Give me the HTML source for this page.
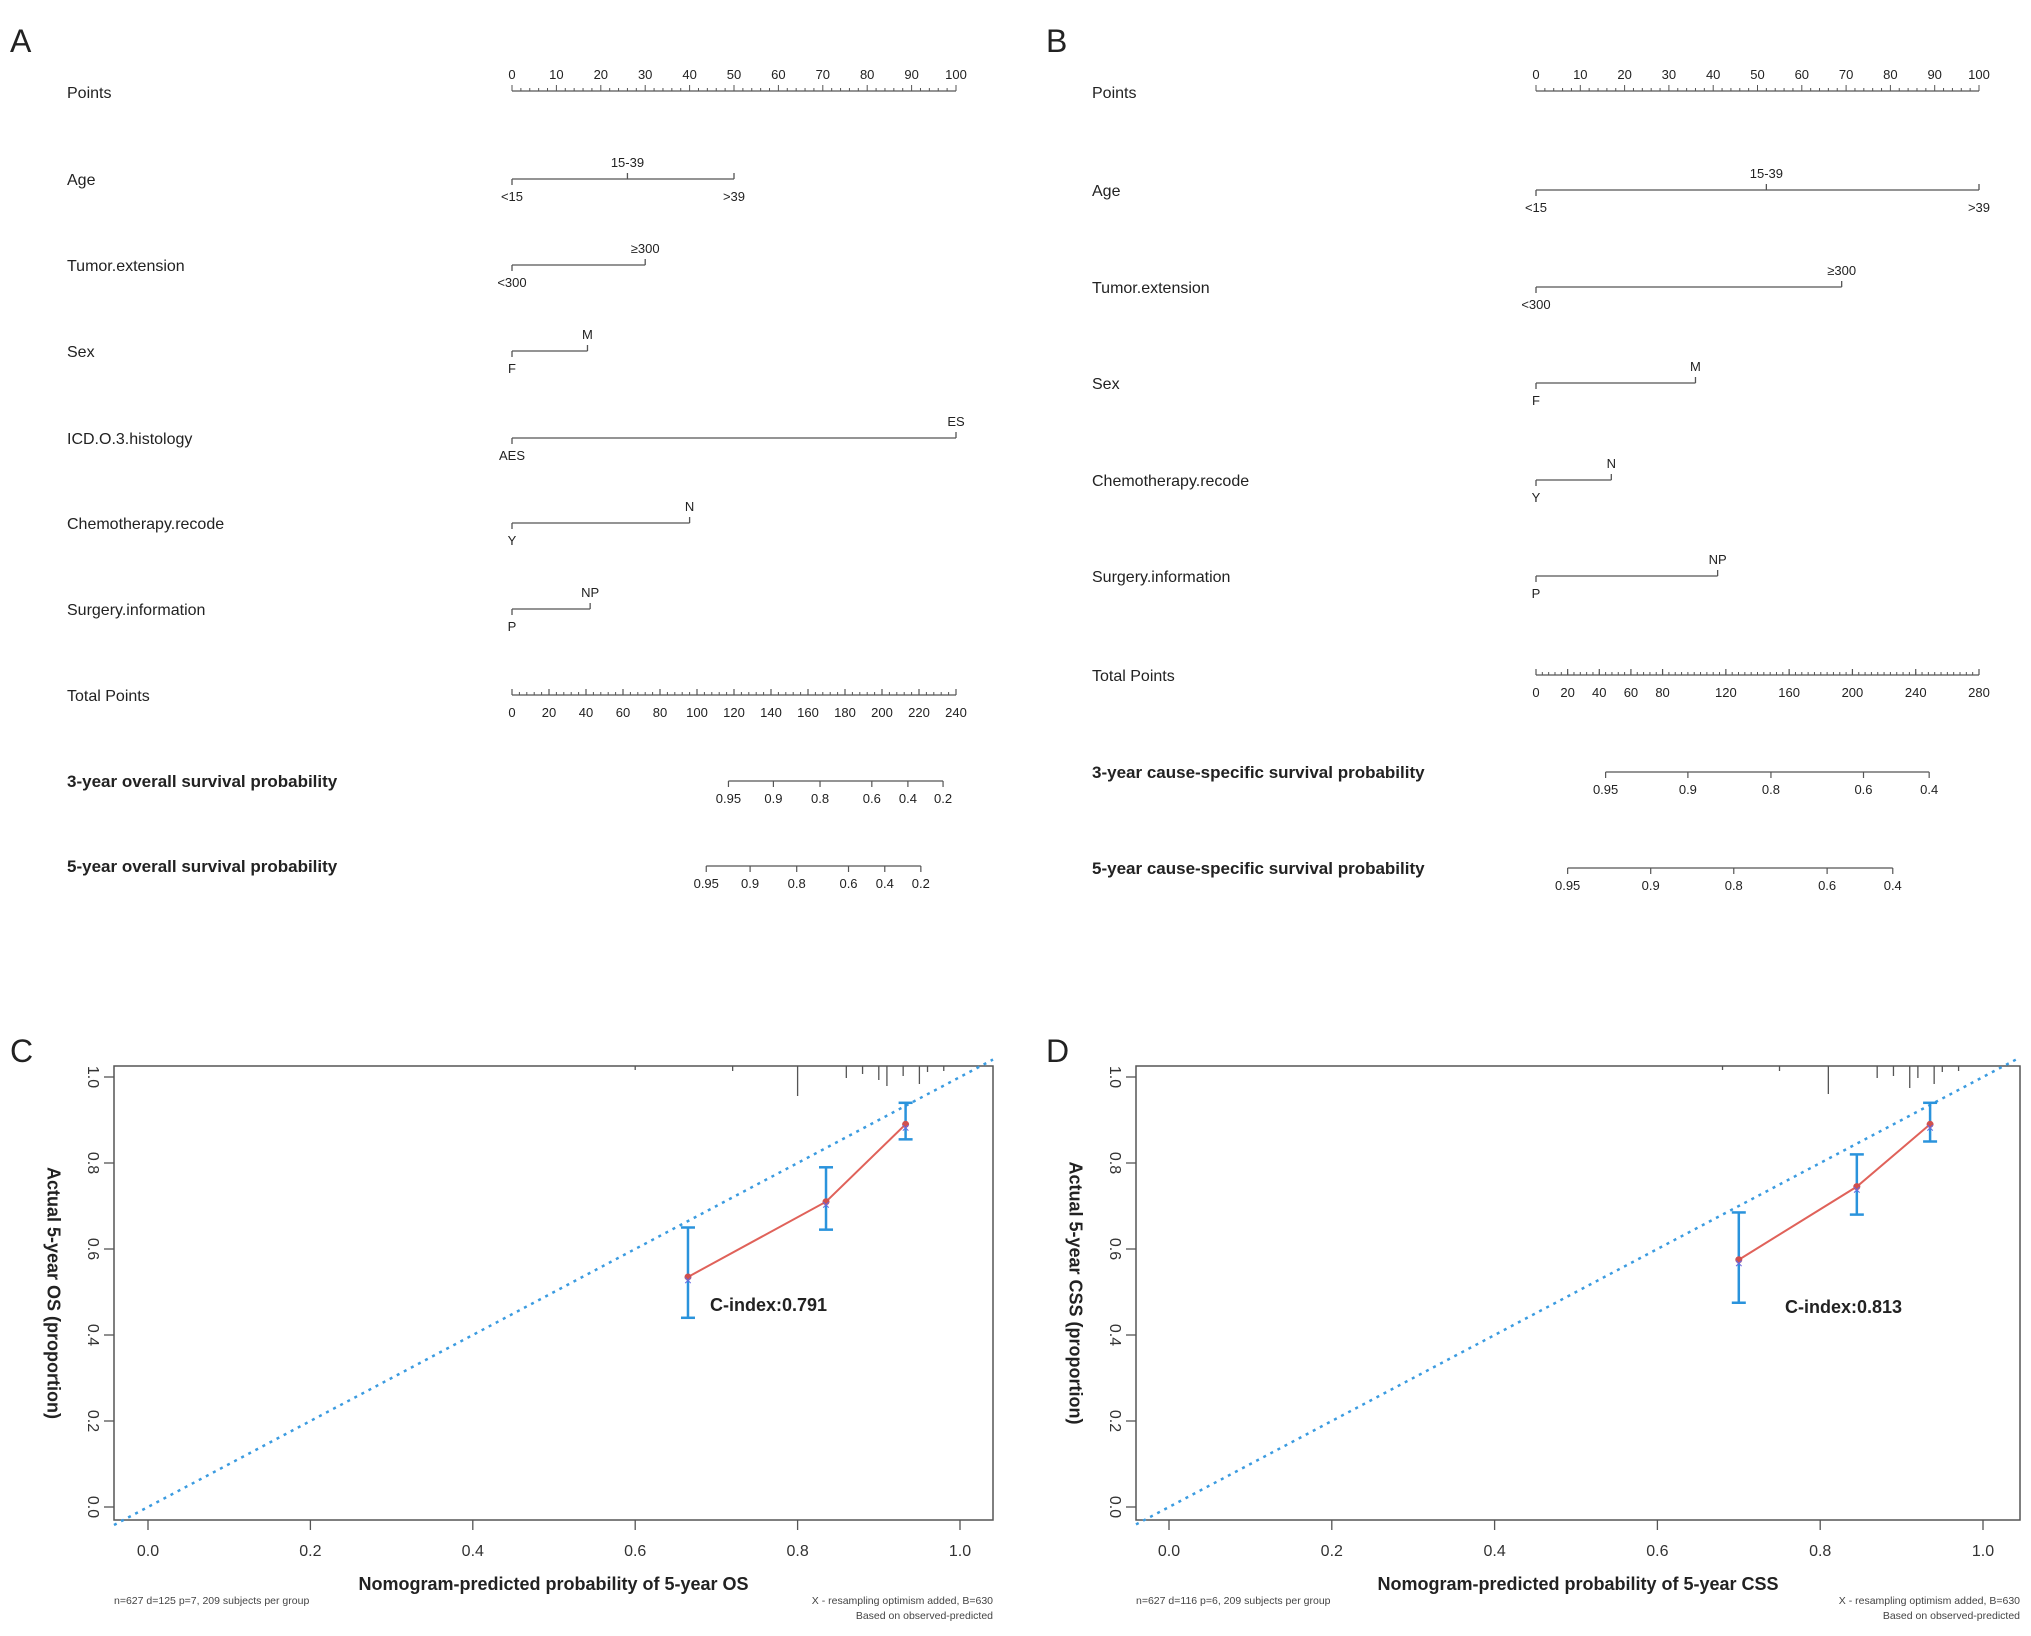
<!DOCTYPE html>
<html><head><meta charset="utf-8"><style>
html,body{margin:0;padding:0;background:#fff;}
svg{display:block;font-family:"Liberation Sans",Arial,sans-serif;}
</style></head><body>
<svg id="fig" width="2031" height="1636" viewBox="0 0 2031 1636" xmlns="http://www.w3.org/2000/svg"></svg>
<script>
// ---- Nomogram A data ----
const aVars = ["Age","Tumor.extension","Sex","ICD.O.3.histology","Chemotherapy.recode","Surgery.information"];
const aLow  = ["<15","<300","F","AES","Y","P"];
const aHigh = ["15-39","≥300","M","ES","N","NP"];
const aMidPts = [26,null,null,null,null,null];
const aHighPts = [50,30,17,100,40,17.6];
const aTotalTicks = [0,20,40,60,80,100,120,140,160,180,200,220,240];
const a3yLabels = ["0.95","0.9","0.8","0.6","0.4","0.2"];
const a3yTotals = [117,141.3,166.5,194.5,214,233];
const a5yLabels = ["0.95","0.9","0.8","0.6","0.4","0.2"];
const a5yTotals = [105,128.7,153.9,181.9,201.5,221];
// ---- Nomogram B data ----
const bVars = ["Age","Tumor.extension","Sex","Chemotherapy.recode","Surgery.information"];
const bLow  = ["<15","<300","F","Y","P"];
const bHigh = ["15-39","≥300","M","N","NP"];
const bMidPts = [52,null,null,null,null];
const bHighPts = [100,69,36,17,41];
const bTotalTicks = [0,20,40,60,80,120,160,200,240,280];
const b3yLabels = ["0.95","0.9","0.8","0.6","0.4"];
const b3yTotals = [44,96,148.5,207,248.5];
const b5yLabels = ["0.95","0.9","0.8","0.6","0.4"];
const b5yTotals = [20,72.5,125,184,225.5];
// ---- Calibration data ----
const cPred = [0.665,0.835,0.933];
const cObs  = [0.535,0.71,0.89];
const cLo   = [0.44,0.645,0.855];
const cHi   = [0.65,0.79,0.94];
const cRug  = [0.60,0.72,0.80,0.86,0.88,0.90,0.91,0.93,0.95,0.96,0.98];
const cRugLen=[4,5,30,12,8,14,20,10,18,6,5];
const dPred = [0.70,0.845,0.935];
const dObs  = [0.575,0.745,0.89];
const dLo   = [0.475,0.68,0.85];
const dHi   = [0.685,0.82,0.94];
const dRug  = [0.68,0.75,0.81,0.87,0.89,0.91,0.92,0.94,0.95,0.97];
const dRugLen=[4,5,28,12,10,22,12,18,6,5];
const xTicks=[0,0.2,0.4,0.6,0.8,1.0];
const yTicks=[0,0.2,0.4,0.6,0.8,1.0];

const NS="http://www.w3.org/2000/svg";
const svg=document.getElementById('fig');
function el(tag,attrs,parent){const e=document.createElementNS(NS,tag);for(const k in attrs)e.setAttribute(k,attrs[k]);(parent||svg).appendChild(e);return e;}
function txt(s,x,y,size,anchor,parent,extra){const t=el('text',Object.assign({x:x,y:y,'font-size':size,'text-anchor':anchor||'start',fill:'#222'},extra||{}),parent);t.textContent=s;return t;}
const LC='#555';

function nomogram(cfg){
  const g=el('g',{});
  
  
  const px=p=>cfg.x0+(cfg.x1-cfg.x0)*p/100;
  const tx=t=>cfg.x0+(cfg.x1-cfg.x0)*t/cfg.totMax;
  const pl=txt(cfg.letter,cfg.lx,cfg.ly,32,'start',g);
  
  const pa=el('g',{},g);
  
  txt('Points',cfg.labX,cfg.pointsY+7,16,'start',pa);
  el('line',{x1:px(0),x2:px(100),y1:cfg.pointsY,y2:cfg.pointsY,stroke:LC,'stroke-width':1.3},pa);
  for(let p=0;p<=100;p+=2){const h=p%10===0?6:3;el('line',{x1:px(p),x2:px(p),y1:cfg.pointsY,y2:cfg.pointsY-h,stroke:LC,'stroke-width':1},pa);}
  for(let p=0;p<=100;p+=10)txt(String(p),px(p),cfg.pointsY-12,13,'middle',pa);
  cfg.vars.forEach((v,i)=>{
    const y=cfg.rows[i];
    const r=el('g',{},g);
    
    
    txt(v,cfg.labX,y+6,16,'start',r);
    el('line',{x1:px(0),x2:px(cfg.high[i]),y1:y,y2:y,stroke:LC,'stroke-width':1.3},r);
    el('line',{x1:px(0),x2:px(0),y1:y,y2:y+6,stroke:LC,'stroke-width':1.3},r);
    el('line',{x1:px(cfg.high[i]),x2:px(cfg.high[i]),y1:y,y2:y-6,stroke:LC,'stroke-width':1.3},r);
    txt(cfg.low[i],px(0),y+22,13,'middle',r);
    if(cfg.mid[i]!=null){
      el('line',{x1:px(cfg.mid[i]),x2:px(cfg.mid[i]),y1:y,y2:y-6,stroke:LC,'stroke-width':1.3},r);
      txt('15-39',px(cfg.mid[i]),y-12,13,'middle',r);
      txt('>39',px(cfg.high[i]),y+22,13,'middle',r);
    } else {
      txt(cfg.highL[i],px(cfg.high[i]),y-12,13,'middle',r);
    }
  });
  const ta=el('g',{},g);
  
  txt('Total Points',cfg.labX,cfg.totY+6,16,'start',ta);
  el('line',{x1:tx(0),x2:tx(cfg.totMax),y1:cfg.totY,y2:cfg.totY,stroke:LC,'stroke-width':1.3},ta);
  for(let t=0;t<=cfg.totMax;t+=cfg.minor){el('line',{x1:tx(t),x2:tx(t),y1:cfg.totY,y2:cfg.totY-3,stroke:LC,'stroke-width':1},ta);}
  cfg.totTicks.forEach(t=>{el('line',{x1:tx(t),x2:tx(t),y1:cfg.totY,y2:cfg.totY-6,stroke:LC,'stroke-width':1.2},ta);txt(String(t),tx(t),cfg.totY+22,13,'middle',ta);});
  cfg.probs.forEach(pr=>{
    const a=el('g',{},g);
    
    txt(pr.title,cfg.labX,pr.y+6,17,'start',a,{'font-weight':'bold'});
    const xs=pr.tot.map(tx);
    el('line',{x1:Math.min(...xs),x2:Math.max(...xs),y1:pr.y,y2:pr.y,stroke:LC,'stroke-width':1.3},a);
    pr.tot.forEach((t,j)=>{el('line',{x1:tx(t),x2:tx(t),y1:pr.y,y2:pr.y+6,stroke:LC,'stroke-width':1.2},a);txt(pr.labels[j],tx(t),pr.y+22,13,'middle',a);});
  });
}
nomogram({name:'nomogram-os',letter:'A',lx:10,ly:52,labX:67,x0:512,x1:956,pointsY:91,
  vars:aVars,low:aLow,highL:aHigh,mid:aMidPts,high:aHighPts,rows:[179,265,351,438,523,609],
  totY:695,totMax:240,minor:4,totTicks:aTotalTicks,
  probs:[{name:'os-3-year-axis',title:'3-year overall survival probability',y:781,tot:a3yTotals,labels:a3yLabels},
         {name:'os-5-year-axis',title:'5-year overall survival probability',y:866,tot:a5yTotals,labels:a5yLabels}]});
nomogram({name:'nomogram-css',letter:'B',lx:1046,ly:52,labX:1092,x0:1536,x1:1979,pointsY:91,
  vars:bVars,low:bLow,highL:bHigh,mid:bMidPts,high:bHighPts,rows:[190,287,383,480,576],
  totY:675,totMax:280,minor:4,totTicks:bTotalTicks,
  probs:[{name:'css-3-year-axis',title:'3-year cause-specific survival probability',y:772,tot:b3yTotals,labels:b3yLabels},
         {name:'css-5-year-axis',title:'5-year cause-specific survival probability',y:868,tot:b5yTotals,labels:b5yLabels}]});

function calib(cfg){
  const g=el('g',{});
  
  const X=v=>cfg.x0+(cfg.x1-cfg.x0)*v;
  const Y=v=>cfg.y0-(cfg.y0-cfg.y1)*v;
  const pl=txt(cfg.letter,cfg.lx,1062,32,'start',g);
  
  const box=el('rect',{x:cfg.bl,y:1066,width:cfg.br-cfg.bl,height:1520-1066,fill:'none',stroke:'#555','stroke-width':1.5},g);
  
  const xa=el('g',{},g);
  xTicks.forEach(t=>{el('line',{x1:X(t),x2:X(t),y1:1520,y2:1530,stroke:'#555','stroke-width':1.3},xa);txt(t.toFixed(1),X(t),1556,16,'middle',xa,{fill:'#333'});});
  const ya=el('g',{},g);
  yTicks.forEach(t=>{el('line',{x1:cfg.bl,x2:cfg.bl-10,y1:Y(t),y2:Y(t),stroke:'#555','stroke-width':1.3},ya);txt(t.toFixed(1),cfg.bl-22,Y(t),16,'middle',ya,{fill:'#333',transform:`rotate(90 ${cfg.bl-22} ${Y(t)})`,'dominant-baseline':'middle'});});
  const yt=txt(cfg.ytitle,cfg.bl-62,1293,18,'middle',g,{'font-weight':'bold',transform:`rotate(90 ${cfg.bl-62} 1293)`,'dominant-baseline':'middle'});
  
  const xt=txt(cfg.xtitle,(cfg.bl+cfg.br)/2,1590,18,'middle',g,{'font-weight':'bold'});
  
  txt(cfg.foot1,cfg.bl,1604,10.5,'start',g,{fill:'#444'});
  txt('X - resampling optimism added, B=630',cfg.br,1604,10.5,'end',g,{fill:'#444'});
  txt('Based on observed-predicted',cfg.br,1619,10.5,'end',g,{fill:'#444'});
  cfg.rug.forEach((r,i)=>{const l=el('line',{x1:X(r),x2:X(r),y1:1066,y2:1066+cfg.rugLen[i],stroke:'#555','stroke-width':1.3},g);
    });
  const lo=-(cfg.x0-cfg.bl)/(cfg.x1-cfg.x0), hi=(cfg.br-cfg.x0)/(cfg.x1-cfg.x0);
  const d=el('line',{x1:X(lo),y1:Y(lo),x2:X(hi),y2:Y(hi),stroke:'#3b9be0','stroke-width':2.5,'stroke-dasharray':'3 5'},g);
  
  const pts=cfg.pred.map((p,i)=>X(p)+','+Y(cfg.obs[i])).join(' ');
  const pl2=el('polyline',{points:pts,fill:'none',stroke:'#e0625a','stroke-width':2},g);
  
  cfg.pred.forEach((p,i)=>{
    const e=el('g',{},g);
    el('line',{x1:X(p),x2:X(p),y1:Y(cfg.lo[i]),y2:Y(cfg.hi[i]),stroke:'#2a93dc','stroke-width':2.5},e);
    el('line',{x1:X(p)-7,x2:X(p)+7,y1:Y(cfg.lo[i]),y2:Y(cfg.lo[i]),stroke:'#2a93dc','stroke-width':2.5},e);
    el('line',{x1:X(p)-7,x2:X(p)+7,y1:Y(cfg.hi[i]),y2:Y(cfg.hi[i]),stroke:'#2a93dc','stroke-width':2.5},e);
    const c=el('circle',{cx:X(p),cy:Y(cfg.obs[i]),r:3.5,fill:'#d0504e'},g);
    
    txt('×',X(p),Y(cfg.obs[i])+8,14,'middle',g,{fill:'#6a6ae0'});
  });
  const ci=txt(cfg.cindex,cfg.cx,cfg.cy,18,'start',g,{'font-weight':'bold'});
  
}
calib({name:'calibration-os',letter:'C',lx:10,bl:114,br:993,x0:148,x1:960,y0:1507,y1:1077,
  pred:cPred,obs:cObs,lo:cLo,hi:cHi,rug:cRug,rugLen:cRugLen,
  ytitle:'Actual 5-year OS (proportion)',xtitle:'Nomogram-predicted probability of 5-year OS',
  foot1:'n=627 d=125 p=7, 209 subjects per group',cindex:'C-index:0.791',cx:710,cy:1311});
calib({name:'calibration-css',letter:'D',lx:1046,bl:1136,br:2020,x0:1169,x1:1983,y0:1507,y1:1077,
  pred:dPred,obs:dObs,lo:dLo,hi:dHi,rug:dRug,rugLen:dRugLen,
  ytitle:'Actual 5-year CSS (proportion)',xtitle:'Nomogram-predicted probability of 5-year CSS',
  foot1:'n=627 d=116 p=6, 209 subjects per group',cindex:'C-index:0.813',cx:1785,cy:1313});
</script>
</body></html>
